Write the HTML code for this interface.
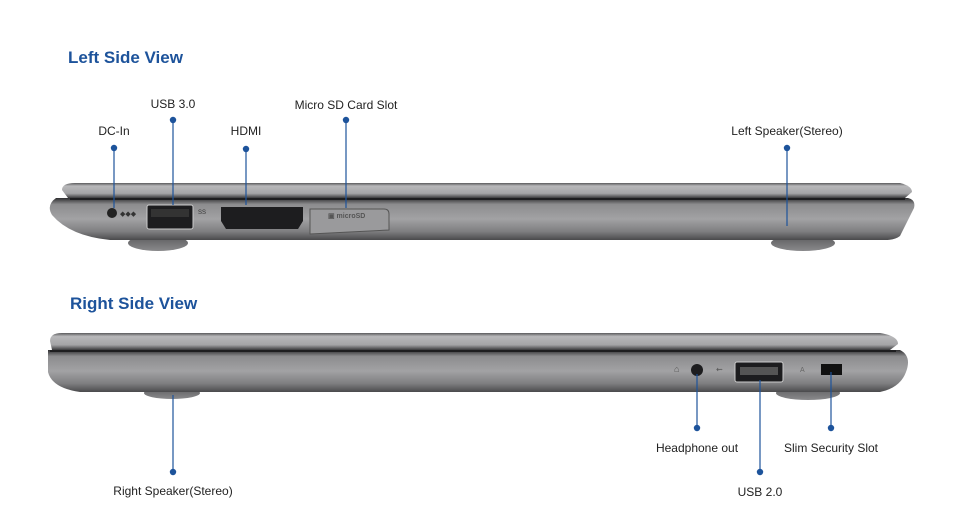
<!DOCTYPE html>
<html><head><meta charset="utf-8"><style>
html,body{margin:0;padding:0;background:#fff;}
svg{display:block;font-family:"Liberation Sans",Arial,sans-serif;}
</style></head><body>
<svg width="960" height="520" viewBox="0 0 960 520" xmlns="http://www.w3.org/2000/svg">
<defs>
<linearGradient id="lid" x1="0" y1="0" x2="0" y2="1">
<stop offset="0" stop-color="#5a5a5c"/><stop offset="0.2" stop-color="#b8b8ba"/><stop offset="0.7" stop-color="#a4a4a6"/><stop offset="1" stop-color="#3a3a3c"/></linearGradient>
<linearGradient id="base" x1="0" y1="0" x2="0" y2="1">
<stop offset="0" stop-color="#2e2e30"/><stop offset="0.15" stop-color="#8c8c8e"/><stop offset="0.5" stop-color="#a2a2a4"/><stop offset="0.8" stop-color="#7e7e80"/><stop offset="1" stop-color="#4a4a4c"/></linearGradient>
<linearGradient id="foot" x1="0" y1="0" x2="0" y2="1">
<stop offset="0" stop-color="#5a5a5c"/><stop offset="1" stop-color="#8a8a8c"/></linearGradient>
</defs>

<text x="68" y="63" font-size="17" font-weight="bold" fill="#1d539b">Left Side View</text>
<text x="70" y="309" font-size="17" font-weight="bold" fill="#1d539b">Right Side View</text>

<!-- left laptop -->
<ellipse cx="158" cy="243" rx="30" ry="8" fill="url(#foot)"/>
<ellipse cx="803" cy="243" rx="32" ry="8" fill="url(#foot)"/>
<path d="M62,190 Q62,183 75,183 L900,183 Q912,186 912,192 L905,198 L68,198 Z" fill="url(#lid)"/>
<path d="M56,198 L908,198 Q916,200 914,208 L900,236 Q895,240 885,240 L110,240 Q70,236 52,215 Q46,205 56,198 Z" fill="url(#base)"/>
<line x1="70" y1="199" x2="905" y2="199" stroke="#1e1e20" stroke-width="2"/>
<circle cx="112" cy="213" r="5" fill="#222"/>
<text x="120" y="216" font-size="7" fill="#333">◆◆◆</text>
<rect x="147" y="205" width="46" height="24" rx="2" fill="#1d1d1f" stroke="#ccc" stroke-width="1"/>
<rect x="151" y="209" width="38" height="8" fill="#333"/>
<text x="198" y="214" font-size="6" fill="#333">SS</text>
<path d="M221,207 L303,207 L303,221 L298,229 L226,229 L221,221 Z" fill="#1d1d1f"/>
<text x="310" y="214" font-size="5" fill="#333">HDMI</text>
<path d="M310,209 L384,209 Q389,209 389,214 L389,230 L310,234 Z" fill="#9a9a9c" stroke="#555" stroke-width="1"/>
<text x="328" y="218" font-size="7" font-weight="bold" fill="#555">▣ microSD</text>

<!-- right laptop -->
<ellipse cx="172" cy="393" rx="28" ry="6" fill="url(#foot)"/>
<ellipse cx="808" cy="393" rx="32" ry="7" fill="url(#foot)"/>
<path d="M50,341 Q50,333 62,333 L880,333 Q898,336 898,344 L890,350 L52,350 Z" fill="url(#lid)"/>
<path d="M48,350 L900,350 Q912,356 906,372 Q900,388 880,392 L80,392 Q52,388 48,372 Z" fill="url(#base)"/>
<line x1="50" y1="351" x2="896" y2="351" stroke="#1e1e20" stroke-width="2"/>
<text x="674" y="372" font-size="9" fill="#555">⌂</text>
<circle cx="697" cy="370" r="6" fill="#1d1d1f"/>
<text x="716" y="372" font-size="8" fill="#555">⇜</text>
<rect x="735" y="362" width="48" height="20" rx="2" fill="#1d1d1f" stroke="#ccc"/>
<rect x="740" y="367" width="38" height="8" fill="#555"/>
<text x="800" y="372" font-size="7" fill="#666">A</text>
<rect x="821" y="364" width="21" height="11" fill="#111"/>

<!-- connectors -->
<g stroke="#1d539b" stroke-width="1.2" fill="#1d539b">
<line x1="114" y1="148" x2="114" y2="208"/><circle cx="114" cy="148" r="3.2" stroke="none"/>
<line x1="173" y1="120" x2="173" y2="205"/><circle cx="173" cy="120" r="3.2" stroke="none"/>
<line x1="246" y1="149" x2="246" y2="205"/><circle cx="246" cy="149" r="3.2" stroke="none"/>
<line x1="346" y1="120" x2="346" y2="208"/><circle cx="346" cy="120" r="3.2" stroke="none"/>
<line x1="787" y1="148" x2="787" y2="226"/><circle cx="787" cy="148" r="3.2" stroke="none"/>
<line x1="173" y1="395" x2="173" y2="472"/><circle cx="173" cy="472" r="3.2" stroke="none"/>
<line x1="697" y1="374" x2="697" y2="428"/><circle cx="697" cy="428" r="3.2" stroke="none"/>
<line x1="760" y1="380" x2="760" y2="472"/><circle cx="760" cy="472" r="3.2" stroke="none"/>
<line x1="831" y1="372" x2="831" y2="428"/><circle cx="831" cy="428" r="3.2" stroke="none"/>
</g>

<g font-size="12" fill="#222" text-anchor="middle">
<text x="114" y="135">DC-In</text>
<text x="173" y="108">USB 3.0</text>
<text x="246" y="135">HDMI</text>
<text x="346" y="109">Micro SD Card Slot</text>
<text x="787" y="135">Left Speaker(Stereo)</text>
<text x="173" y="495">Right Speaker(Stereo)</text>
<text x="697" y="452">Headphone out</text>
<text x="760" y="496">USB 2.0</text>
<text x="831" y="452">Slim Security Slot</text>
</g>
</svg>
</body></html>
